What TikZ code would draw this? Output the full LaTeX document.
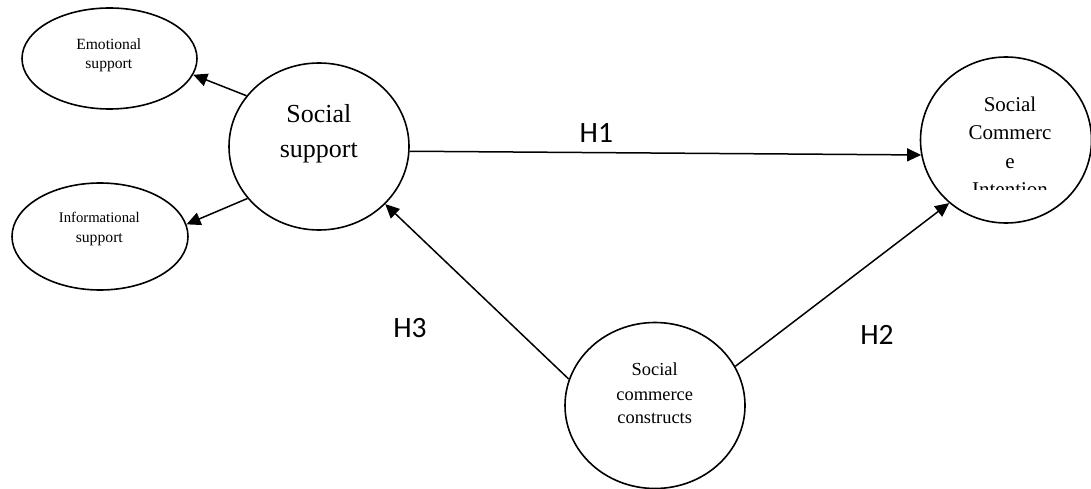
\documentclass[tikz,border=0pt]{standalone}
\usepackage{fontspec}
\setmainfont{Liberation Serif}
\newfontfamily\hfont{Carlito}
\usetikzlibrary{shapes.geometric,arrows.meta}
\begin{document}
\begin{tikzpicture}[x=1pt,y=-1pt,
  oval/.style={draw,ellipse,line width=1.6pt,inner sep=0pt},
  lbl/.style={anchor=base,inner sep=0pt},
  conn/.style={line width=1.5pt,-{Triangle[length=14pt,width=13pt]}},
  hyp/.style={anchor=base,inner sep=0pt,font=\hfont\fontsize{29.5}{30}\selectfont}]
\useasboundingbox (0,0) rectangle (1091,489);

% shapes
\node[oval,minimum width=175pt,minimum height=101pt] (emo) at (109.5,58.5) {};
\node[oval,minimum width=176pt,minimum height=107pt] (inf) at (100,236.5) {};
\node[oval,minimum width=180pt,minimum height=167pt] (ss) at (319,146.5) {};
\node[oval,minimum width=171pt,minimum height=166pt] (sci) at (1006,140) {};
\node[oval,minimum width=180pt,minimum height=166pt] (scc) at (655,405.5) {};

% texts
\node[lbl,font=\fontsize{15.6}{16}\selectfont] (emo1) at (108.8,49.3) {Emotional};
\node[lbl,font=\fontsize{15.6}{16}\selectfont] (emo2) at (108.8,68.8) {support};
\node[lbl,font=\fontsize{14.7}{15}\selectfont] (inf1) at (99.3,222.3) {Informational};
\node[lbl,font=\fontsize{15.7}{16}\selectfont] (inf2) at (99.3,242.0) {support};
\node[lbl,font=\fontsize{26}{27}\selectfont] (ss1) at (318.8,122.7) {Social};
\node[lbl,font=\fontsize{26}{27}\selectfont] (ss2) at (318.8,157.5) {support};
\node[lbl,font=\fontsize{21}{22}\selectfont] (sci1) at (1010,111.7) {Social};
\node[lbl,font=\fontsize{21}{22}\selectfont] (sci2) at (1010,140) {Commerc};
\node[lbl,font=\fontsize{21}{22}\selectfont] (sci3) at (1010,168.3) {e};
\begin{scope}
\clip (900,100) rectangle (1091,189.3);
\node[lbl,font=\fontsize{21}{22}\selectfont] (sci4) at (1010,196.6) {Intention};
\end{scope}
\node[lbl,font=\fontsize{18.4}{19}\selectfont] (scc1) at (654.7,375.3) {Social};
\node[lbl,font=\fontsize{18.4}{19}\selectfont] (scc2) at (654.7,400) {commerce};
\node[lbl,font=\fontsize{18.4}{19}\selectfont] (scc3) at (654.7,423.3) {constructs};

% connectors
\draw[conn] (ss.145.4) -- (emo.-11.8);
\draw[conn] (ss.216.1) -- (inf.8.5);
\draw[conn] (ss.-3.3) -- (sci.190);
\draw[conn] (scc.163.6) -- (ss.-41.3);
\draw[conn] (scc.26.3) -- (sci.228.4);

% hypothesis labels
\node[hyp] (h1) at (596.4,143) {H1};
\node[hyp] (h3) at (410,337.7) {H3};
\node[hyp] (h2) at (877,344) {H2};
\end{tikzpicture}
\end{document}
